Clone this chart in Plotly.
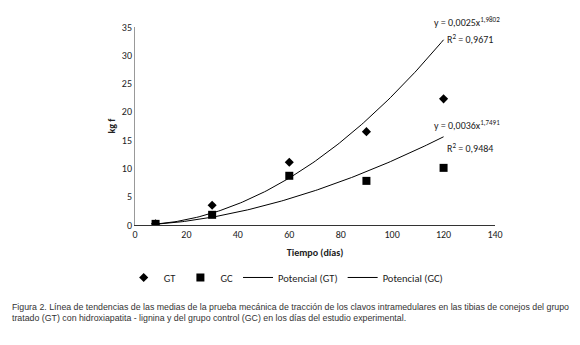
import numpy as np
import plotly.graph_objects as go

# Data
dias = [8, 30, 60, 90, 120]
gt_values = [0.2, 3.5, 11.1, 16.5, 22.3]
gc_values = [0.2, 1.8, 8.7, 7.8, 10.1]

# Power trendline coefficients shown on the chart: y = a * x^b
gt_a, gt_b = 0.0025, 1.9802
gc_a, gc_b = 0.0036, 1.7491

x_ticks = [0, 20, 40, 60, 80, 100, 120, 140]
y_ticks = [0, 5, 10, 15, 20, 25, 30, 35]

xs = np.linspace(min(dias), max(dias), 120)
gt_fit = gt_a * xs ** gt_b
gc_fit = gc_a * xs ** gc_b

font_chart = "Carlito, Lato, Liberation Sans, sans-serif"
font_caption = "Liberation Sans Narrow, Liberation Sans, Arial, sans-serif"

fig = go.Figure()
fig.add_trace(go.Scatter(x=dias, y=gt_values, mode="markers", name="GT",
                         marker=dict(symbol="diamond", size=7, color="black")))
fig.add_trace(go.Scatter(x=dias, y=gc_values, mode="markers", name="GC",
                         marker=dict(symbol="square", size=8, color="black")))
fig.add_trace(go.Scatter(x=xs, y=gt_fit, mode="lines", name="Potencial (GT)",
                         line=dict(color="black", width=1)))
fig.add_trace(go.Scatter(x=xs, y=gc_fit, mode="lines", name="Potencial (GC)",
                         line=dict(color="black", width=1)))

fig.update_layout(
    width=580, height=345,
    margin=dict(l=127, r=93, t=15, b=128),
    paper_bgcolor="white", plot_bgcolor="white",
    font=dict(family=font_chart, size=10, color="#222"),
    xaxis=dict(range=[0, 140], tickvals=x_ticks, showgrid=False, zeroline=False,
               showline=True, linecolor="#333", linewidth=1, ticks="",
               title=dict(text="<b>Tiempo (días)</b>", font=dict(size=10), standoff=8)),
    yaxis=dict(range=[0, 35], tickvals=y_ticks, showgrid=False, zeroline=False,
               showline=True, linecolor="#999", linewidth=1, ticks="",
               title=dict(text="<b>kg f</b>", font=dict(size=10), standoff=4)),
    legend=dict(orientation="h", x=0.42, y=-0.265, xanchor="center", yanchor="middle",
                font=dict(size=10.5), itemwidth=30, tracegroupgap=0),
    showlegend=True,
)

ann = [
    dict(x=424, y=10, text="y = 0,0025x<sup>1,9802</sup>"),
    dict(x=437, y=27, text="R<sup>2</sup> = 0,9671"),
    dict(x=424, y=115, text="y = 0,0036x<sup>1,7491</sup>"),
    dict(x=437, y=138, text="R<sup>2</sup> = 0,9484"),
]
for a in ann:
    fig.add_annotation(x=(a["x"] - 127) / 360, y=(217 - a["y"]) / 202,
                       xref="paper", yref="paper", text=a["text"], showarrow=False,
                       xanchor="left", yanchor="middle",
                       font=dict(family=font_chart, size=10, color="#222"))

caption = ("Figura 2. Línea de tendencias de las medias de la prueba mecánica de tracción de los clavos intramedulares en las tibias de conejos del grupo<br>"
           "tratado (GT) con hidroxiapatita - lignina y del grupo control (GC) en los días del estudio experimental.")
fig.add_annotation(x=(2 - 127) / 360, y=(217 - 294) / 202, xref="paper", yref="paper",
                   text=caption, showarrow=False, xanchor="left", yanchor="top", align="left",
                   font=dict(family=font_caption, size=8.8, color="#333"))

fig.write_html("out.html")
